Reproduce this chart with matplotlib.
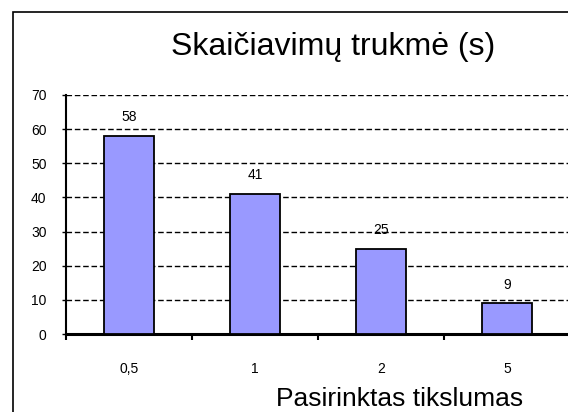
import matplotlib
matplotlib.use("Agg")
import matplotlib.pyplot as plt
from matplotlib.patches import Rectangle

categories = ["0,5", "1", "2", "5"]
values = [58, 41, 25, 9]
yticks = [0, 10, 20, 30, 40, 50, 60, 70]

plt.rcParams['font.family'] = ['Liberation Sans', 'DejaVu Sans']

W, H = 568, 412
fig = plt.figure(figsize=(W/100, H/100), dpi=100)
# outer chart border (cut at right/bottom)
fig.patches.append(Rectangle((13/W, -0.05), 1.2, (H-12)/H + 0.05, transform=fig.transFigure,
                             fill=False, edgecolor='black', linewidth=1.2))

ax = fig.add_axes([66/W, 1-334/H, (W-66+2)/W, (334-95)/H])
x = list(range(len(categories)))
bars = ax.bar(x, values, width=0.4, color='#9999FF', edgecolor='black', linewidth=1.3, zorder=3)
for xi, v in zip(x, values):
    ax.text(xi, v + 3.4, str(v), ha='center', va='bottom', fontsize=10, zorder=4)

ax.set_xlim(-0.5, 3.5)
ax.set_ylim(0, 70)
ax.set_yticks(yticks)
ax.set_yticklabels([str(t) for t in yticks], fontsize=10)
ax.yaxis.grid(True, linestyle=(0, (4, 2)), color='black', linewidth=1)
ax.set_axisbelow(True)
ax.set_xticks([-0.5, 0.5, 1.5, 2.5, 3.5])
ax.set_xticklabels([])
ax.set_xticks(x, minor=True)
ax.set_xticklabels(categories, minor=True, fontsize=10)
ax.tick_params(axis='x', which='minor', length=0, pad=20)
ax.tick_params(axis='x', which='major', length=4, width=1.5, direction='out')
ax.tick_params(axis='y', length=3, width=1, direction='out', pad=11)
for s in ['top', 'right']:
    ax.spines[s].set_visible(False)
ax.spines['left'].set_linewidth(1.5)
ax.spines['bottom'].set_linewidth(2.2)

fig.text(333/W, 1-55/H, "Skaičiavimų trukmė (s)", ha='center', va='baseline', fontsize=23)
fig.text(400/W, 1-406/H, "Pasirinktas tikslumas", ha='center', va='baseline', fontsize=19)

fig.savefig("out.png", dpi=100)
